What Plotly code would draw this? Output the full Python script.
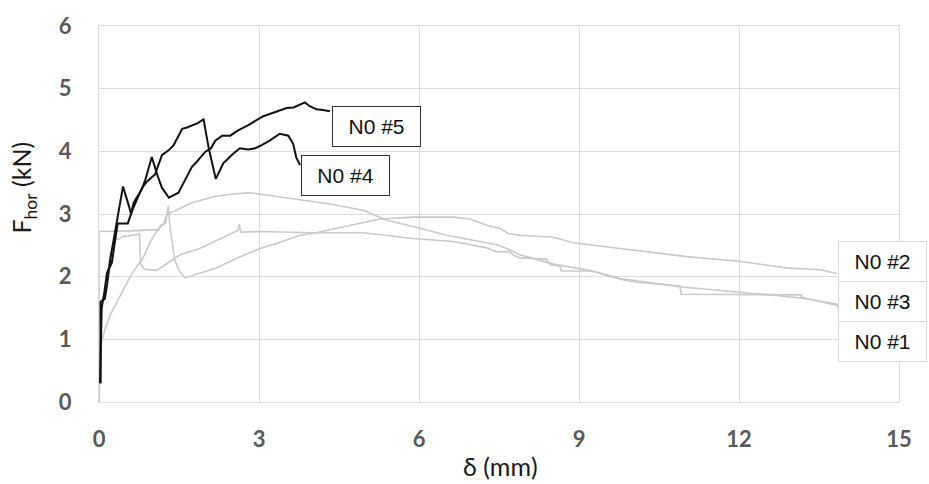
import plotly.graph_objects as go

# ---------------- data ----------------
n0_5_x = [0.03, 0.03, 0.11, 0.15, 0.21, 0.27, 0.34, 0.45, 0.56, 0.60, 0.65, 0.80, 0.87, 0.99,
          1.09, 1.18, 1.31, 1.40, 1.49, 1.60, 1.74, 1.85, 1.99, 2.10, 2.18, 2.31, 2.46, 2.60,
          2.80, 3.08, 3.30, 3.52, 3.65, 3.75, 3.86, 3.95, 4.08, 4.20, 4.33]
n0_5_y = [0.30, 1.60, 1.65, 1.86, 2.27, 2.55, 2.87, 3.44, 3.13, 3.00, 3.18, 3.39, 3.55, 3.91,
          3.63, 3.42, 3.26, 3.30, 3.34, 3.52, 3.75, 3.85, 3.99, 4.05, 4.17, 4.25, 4.25, 4.33,
          4.42, 4.56, 4.62, 4.69, 4.70, 4.74, 4.78, 4.72, 4.67, 4.66, 4.64]

n0_4_x = [0.02, 0.05, 0.10, 0.15, 0.24, 0.30, 0.35, 0.54, 0.62, 0.72, 0.81, 0.90, 1.05, 1.18,
          1.31, 1.40, 1.49, 1.56, 1.65, 1.74, 1.85, 1.96, 2.06, 2.19, 2.33, 2.50, 2.64, 2.80,
          2.93, 3.05, 3.20, 3.39, 3.55, 3.64, 3.70, 3.77]
n0_4_y = [0.30, 1.50, 1.75, 2.06, 2.22, 2.60, 2.85, 2.85, 3.05, 3.25, 3.42, 3.52, 3.63, 3.94,
          4.02, 4.10, 4.25, 4.36, 4.38, 4.41, 4.45, 4.51, 4.04, 3.56, 3.81, 3.95, 4.05, 4.03,
          4.05, 4.10, 4.17, 4.28, 4.25, 4.12, 3.90, 3.78]

n0_2_x = [0.00, 0.00, 0.60, 1.12, 1.15, 1.25, 1.30, 1.33, 1.42, 1.50, 1.61, 1.80, 2.20, 2.60,
          3.02, 3.40, 3.77, 4.00, 4.60, 5.27, 5.89, 6.64, 6.96, 7.27, 7.52, 7.67, 7.89, 8.52,
          8.89, 9.77, 11.02, 11.96, 12.89, 13.52, 13.84]
n0_2_y = [0.00, 2.72, 2.73, 2.75, 2.82, 2.85, 3.13, 2.80, 2.27, 2.10, 1.98, 2.03, 2.14, 2.30,
          2.45, 2.55, 2.66, 2.69, 2.80, 2.92, 2.95, 2.95, 2.92, 2.82, 2.77, 2.69, 2.66, 2.63,
          2.54, 2.45, 2.32, 2.25, 2.14, 2.11, 2.05]

n0_3_x = [0.00, 0.03, 0.05, 0.12, 0.21, 0.30, 0.43, 0.59, 0.74, 0.81, 0.96, 1.09, 1.21, 1.28,
          1.42, 1.74, 2.17, 2.50, 2.83, 3.39, 4.33, 4.95, 5.40, 5.89, 6.52, 7.46, 7.70, 7.89,
          8.52, 9.20, 9.77, 10.89, 12.27, 13.17, 13.84, 13.86]
n0_3_y = [0.00, 0.95, 0.97, 1.18, 1.39, 1.54, 1.75, 2.01, 2.20, 2.27, 2.55, 2.74, 2.84, 3.00,
          3.05, 3.18, 3.28, 3.32, 3.34, 3.27, 3.16, 3.06, 2.90, 2.80, 2.66, 2.51, 2.43, 2.35,
          2.20, 2.10, 1.97, 1.84, 1.73, 1.66, 1.56, 1.50]

n0_1_x = [0.00, 0.03, 0.08, 0.15, 0.22, 0.28, 0.31, 0.38, 0.45, 0.55, 0.65, 0.76, 0.78, 0.85,
          1.08, 1.39, 1.52, 1.89, 2.46, 2.61, 2.63, 2.66, 3.00, 4.01, 4.95, 5.58, 5.89, 6.64,
          7.27, 7.45, 7.70, 7.76, 7.89, 8.39, 8.46, 8.64, 8.67, 9.23, 9.39, 9.77, 10.08, 10.89,
          10.92, 13.17, 13.17, 13.84]
n0_1_y = [0.00, 1.50, 1.60, 2.00, 2.40, 2.55, 2.60, 2.60, 2.64, 2.65, 2.66, 2.68, 2.20, 2.12,
          2.10, 2.27, 2.35, 2.45, 2.69, 2.74, 2.84, 2.71, 2.72, 2.70, 2.70, 2.64, 2.61, 2.56,
          2.46, 2.40, 2.40, 2.35, 2.30, 2.28, 2.19, 2.17, 2.09, 2.09, 2.05, 1.96, 1.91, 1.85,
          1.72, 1.71, 1.67, 1.54]

x_ticks = [0, 3, 6, 9, 12, 15]
y_ticks = [0, 1, 2, 3, 4, 5, 6]

GRAY = "#c9c9c9"
BLACK = "#111111"

fig = go.Figure()
for xs, ys, col, w, name in [
    (n0_2_x, n0_2_y, GRAY, 1.6, "N0 #2"),
    (n0_3_x, n0_3_y, GRAY, 1.6, "N0 #3"),
    (n0_1_x, n0_1_y, GRAY, 1.6, "N0 #1"),
    (n0_4_x, n0_4_y, BLACK, 2.0, "N0 #4"),
    (n0_5_x, n0_5_y, BLACK, 2.0, "N0 #5"),
]:
    fig.add_trace(go.Scatter(x=xs, y=ys, mode="lines", name=name,
                             line=dict(color=col, width=w), showlegend=False))

label_font = dict(family="Liberation Sans, Arial, sans-serif", size=21, color="#111111")
labels = [
    ("N0 #5", 5.20, 4.40, "#333333"),
    ("N0 #4", 4.63, 3.62, "#333333"),
    ("N0 #2", 14.69, 2.24, "#d9d9d9"),
    ("N0 #3", 14.69, 1.60, "#d9d9d9"),
    ("N0 #1", 14.69, 0.97, "#d9d9d9"),
]
for txt, lx, ly, bc in labels:
    fig.add_annotation(x=lx, y=ly, xref="x", yref="y", text=txt, showarrow=False,
                       font=label_font, bgcolor="white", bordercolor=bc, borderwidth=1,
                       borderpad=2, width=83, height=35, align="center", valign="middle")

# axis titles
fig.add_annotation(xref="paper", yref="paper", x=(500 - 99) / 800, y=(402 - 467) / 384,
                   text="δ (mm)", showarrow=False,
                   font=dict(family="Lato, sans-serif", size=25, color="#1a1a1a"),
                   xanchor="center", yanchor="middle")
fig.add_annotation(xref="paper", yref="paper", x=(23 - 99) / 800, y=(402 - 183) / 384,
                   text="F<sub>hor</sub> (kN)", showarrow=False, textangle=-90,
                   font=dict(family="Lato, sans-serif", size=25, color="#1a1a1a"),
                   xanchor="center", yanchor="middle")

tick_font = dict(family="Lato, sans-serif", size=22, color="#595959", weight="bold")
fig.update_xaxes(range=[0, 15], tickvals=x_ticks, ticktext=[str(v) for v in x_ticks],
                 showgrid=True, gridcolor="#dcdcdc", gridwidth=1, zeroline=False,
                 showline=True, linecolor="#dcdcdc", linewidth=1, mirror=True,
                 tickfont=tick_font, ticks="outside", ticklen=18,
                 tickcolor="rgba(0,0,0,0)")
fig.update_yaxes(range=[0, 6], tickvals=y_ticks, ticktext=[str(v) for v in y_ticks],
                 showgrid=True, gridcolor="#dcdcdc", gridwidth=1, zeroline=False,
                 showline=True, linecolor="#dcdcdc", linewidth=1, mirror=True,
                 tickfont=tick_font, ticks="outside", ticklen=22,
                 tickcolor="rgba(0,0,0,0)")

fig.update_layout(width=929, height=484, margin=dict(l=99, r=30, t=18, b=82),
                  plot_bgcolor="white", paper_bgcolor="white", showlegend=False)

fig.write_html("out.html")
